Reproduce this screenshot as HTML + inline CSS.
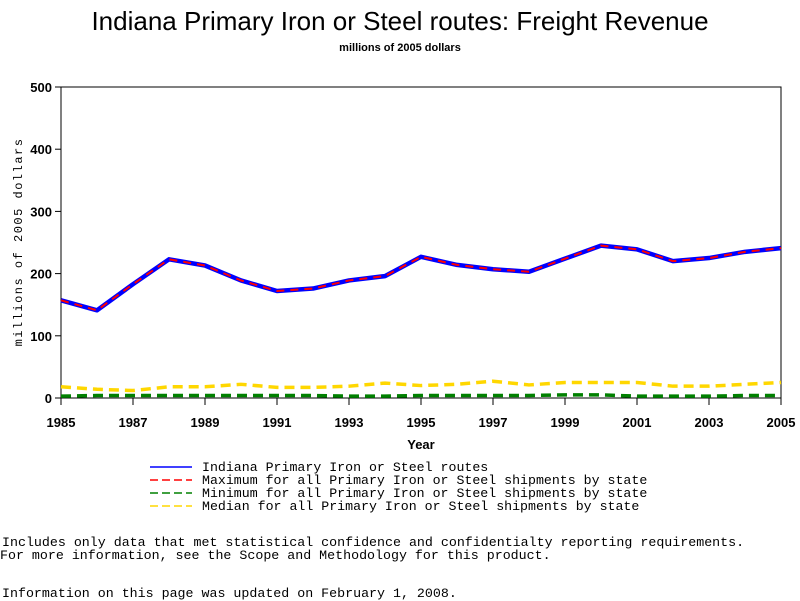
<!DOCTYPE html>
<html><head><meta charset="utf-8"><style>
body{margin:0;background:#fff;width:800px;height:600px;overflow:hidden;position:relative;font-family:"Liberation Sans",sans-serif}
.t{position:absolute;white-space:pre}
.mono{font-family:"Liberation Mono",monospace}
</style></head><body>
<div class="t" style="left:0;width:800px;text-align:center;top:6px;font-size:26px">Indiana Primary Iron or Steel routes: Freight Revenue</div>
<div class="t" style="left:0;width:800px;text-align:center;top:42px;font-size:11px;font-weight:bold">millions of 2005 dollars</div>
<svg id="chart" width="800" height="460" style="position:absolute;left:0;top:0"></svg>
<div class="t mono" style="left:202px;top:460px;font-size:13.25px">Indiana Primary Iron or Steel routes</div>
<div class="t mono" style="left:202px;top:473px;font-size:13.25px">Maximum for all Primary Iron or Steel shipments by state</div>
<div class="t mono" style="left:202px;top:486px;font-size:13.25px">Minimum for all Primary Iron or Steel shipments by state</div>
<div class="t mono" style="left:202px;top:499px;font-size:13.25px">Median for all Primary Iron or Steel shipments by state</div>
<svg width="800" height="600" style="position:absolute;left:0;top:0">
<line x1="150" y1="467" x2="192" y2="467" stroke="#0000ff" stroke-width="1.5"/>
<line x1="150" y1="480" x2="192" y2="480" stroke="#ff0000" stroke-width="1.5" stroke-dasharray="8,4"/>
<line x1="150" y1="493" x2="192" y2="493" stroke="#008000" stroke-width="1.5" stroke-dasharray="8,4"/>
<line x1="150" y1="506" x2="192" y2="506" stroke="#ffd700" stroke-width="1.5" stroke-dasharray="8,4"/>
</svg>
<div class="t mono" style="left:2px;top:535px;font-size:13.3px">Includes only data that met statistical confidence and confidentialty reporting requirements.</div>
<div class="t mono" style="left:0px;top:548px;font-size:13.3px">For more information, see the Scope and Methodology for this product.</div>
<div class="t mono" style="left:2px;top:586px;font-size:13.3px">Information on this page was updated on February 1, 2008.</div>
<script>
const years=[1985,1986,1987,1988,1989,1990,1991,1992,1993,1994,1995,1996,1997,1998,1999,2000,2001,2002,2003,2004,2005];
const indiana=[157,141,183,223,213,189,172,176,189,196,227,214,207,203,224,245,239,220,225,235,241];
const maximum=[157,141,183,223,213,189,172,176,189,196,227,214,207,203,224,245,239,220,225,235,241];
const minimum=[3,4,4,4,4,4,4,4,3,3,4,4,4,4,5,5,3,3,3,4,4];
const median=[18,14,12,18,18,22,17,17,19,24,20,22,27,21,25,25,25,19,19,22,25];
const yTicks=[0,100,200,300,400,500];
const xTicks=[1985,1987,1989,1991,1993,1995,1997,1999,2001,2003,2005];
const L=61,R=781,T=87,B=398;
const x=v=>L+(v-1985)/(2005-1985)*(R-L);
const y=v=>B-v/500*(B-T);
const svg=document.getElementById('chart');
const NS='http://www.w3.org/2000/svg';
function mk(tag,attrs){const e=document.createElementNS(NS,tag);for(const k in attrs)e.setAttribute(k,attrs[k]);svg.appendChild(e);return e;}
let f=mk('rect',{x:L,y:T,width:R-L,height:B-T,fill:'none',stroke:'#000','stroke-width':1});


yTicks.forEach(v=>{
  let l=mk('line',{x1:L-6,x2:L,y1:y(v),y2:y(v),stroke:'#000'});
  
  
  let t=mk('text',{x:L-9,y:y(v)+5,'text-anchor':'end','font-size':13,'font-weight':'bold','font-family':'Liberation Sans'});
  t.textContent=v;
  
  
});
xTicks.forEach(v=>{
  let l=mk('line',{x1:x(v),x2:x(v),y1:B,y2:B+7,stroke:'#000'});
  
  
  let t=mk('text',{x:x(v),y:B+29,'text-anchor':'middle','font-size':13,'font-weight':'bold','font-family':'Liberation Sans'});
  t.textContent=v;
  
  
});
let xt=mk('text',{x:421,y:449,'text-anchor':'middle','font-size':13,'font-weight':'bold','font-family':'Liberation Sans'});
xt.textContent='Year';


let yt=mk('text',{x:22,y:242,'text-anchor':'middle','font-size':12,'font-family':'Liberation Mono',transform:'rotate(-90 22 242)','letter-spacing':'1.5'});
yt.textContent='millions of 2005 dollars';


function series(vals,color,w,dash,name){
  const p=mk('polyline',{points:vals.map((v,i)=>x(years[i])+','+y(v)).join(' '),fill:'none',stroke:color,'stroke-width':w,'stroke-linejoin':'round'});
  if(dash)p.setAttribute('stroke-dasharray',dash);
  
  
}
series(median,'#ffd700',3.5,'10,6','series-median');
series(minimum,'#008000',3.5,'10,6','series-minimum');
series(indiana,'#0000ff',4.5,null,'series-indiana');
series(maximum,'#ff0000',2,'8,6','series-maximum');
</script>
</body></html>
